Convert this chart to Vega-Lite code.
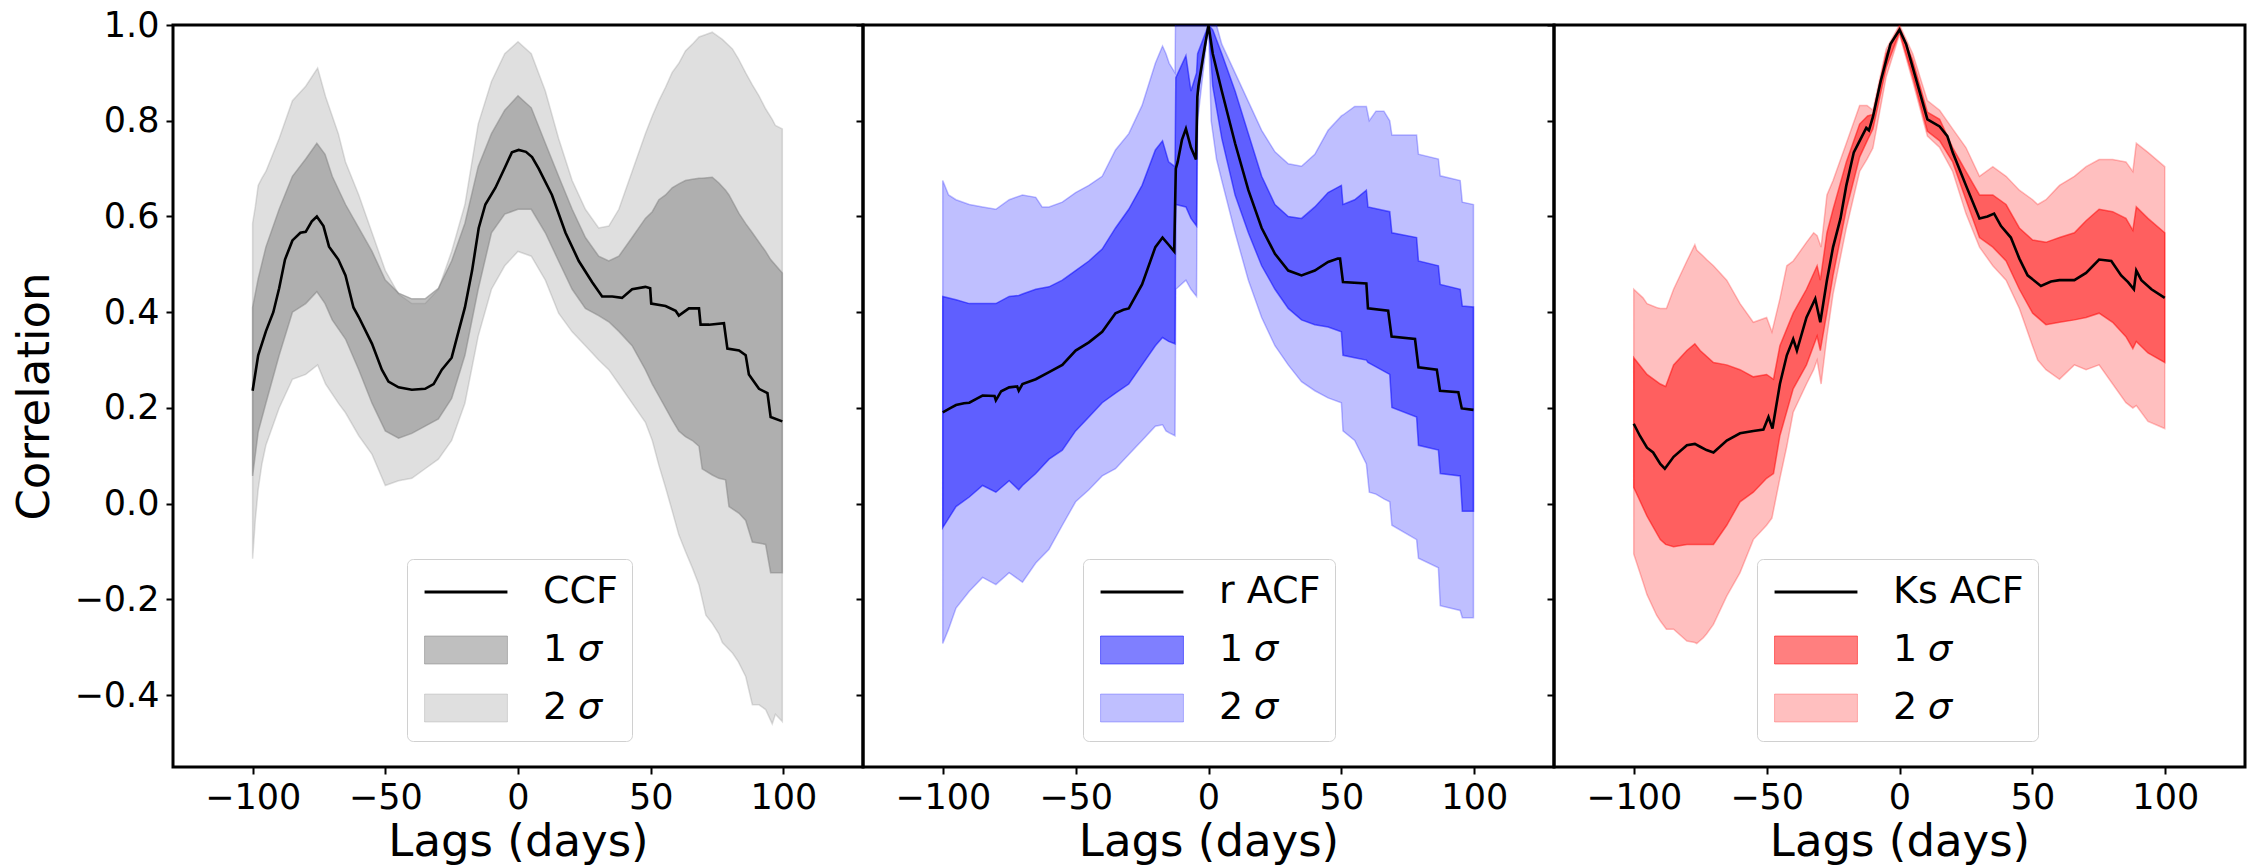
{
  "$schema": "https://vega.github.io/schema/vega-lite/v6.json",
  "background": "white",
  "padding": {"left": 10, "top": 6, "right": 0, "bottom": 0},
  "spacing": 0,
  "bounds": "flush",
  "config": {
    "view": {"stroke": "black", "strokeWidth": 3},
    "font": "DejaVu Sans",
    "axis": {
      "labelFont": "DejaVu Sans", "titleFont": "DejaVu Sans",
      "labelFontSize": 35, "titleFontSize": 45, "titleFontWeight": "normal",
      "labelColor": "black", "titleColor": "black",
      "tickColor": "black", "tickWidth": 2, "tickSize": 7,
      "domain": false, "grid": false, "labelFlush": false, "labelOverlap": false
    },
    "legend": {
      "labelFont": "DejaVu Sans", "labelFontSize": 38, "labelColor": "black",
      "symbolSize": 784, "symbolStrokeWidth": 3, "symbolOffset": 26, "labelOffset": 58,
      "rowPadding": 20, "padding": 14,
      "fillColor": "rgba(255,255,255,0.8)", "strokeColor": "#d0d0d0", "cornerRadius": 6
    }
  },
  "resolve": {"scale": {"color": "independent"}, "legend": {"color": "independent"}},
  "datasets": {
    "p1": [
      {"lag": -100, "s": "2 𝜎", "lo": -0.115, "hi": 0.586},
      {"lag": -99, "s": "2 𝜎", "lo": -0.035, "hi": 0.62},
      {"lag": -97.9, "s": "2 𝜎", "lo": 0.03, "hi": 0.665},
      {"lag": -96.5, "s": "2 𝜎", "lo": 0.083, "hi": 0.68},
      {"lag": -95, "s": "2 𝜎", "lo": 0.122, "hi": 0.694},
      {"lag": -90, "s": "2 𝜎", "lo": 0.2, "hi": 0.763},
      {"lag": -85, "s": "2 𝜎", "lo": 0.26, "hi": 0.842},
      {"lag": -80, "s": "2 𝜎", "lo": 0.27, "hi": 0.872},
      {"lag": -75.5, "s": "2 𝜎", "lo": 0.29, "hi": 0.91},
      {"lag": -72.5, "s": "2 𝜎", "lo": 0.25, "hi": 0.85},
      {"lag": -67.7, "s": "2 𝜎", "lo": 0.21, "hi": 0.773},
      {"lag": -65, "s": "2 𝜎", "lo": 0.19, "hi": 0.714},
      {"lag": -60, "s": "2 𝜎", "lo": 0.142, "hi": 0.645},
      {"lag": -55, "s": "2 𝜎", "lo": 0.103, "hi": 0.566},
      {"lag": -50, "s": "2 𝜎", "lo": 0.038, "hi": 0.487},
      {"lag": -45, "s": "2 𝜎", "lo": 0.048, "hi": 0.438},
      {"lag": -40, "s": "2 𝜎", "lo": 0.053, "hi": 0.418},
      {"lag": -35, "s": "2 𝜎", "lo": 0.073, "hi": 0.418},
      {"lag": -30, "s": "2 𝜎", "lo": 0.093, "hi": 0.448},
      {"lag": -25, "s": "2 𝜎", "lo": 0.132, "hi": 0.527},
      {"lag": -20, "s": "2 𝜎", "lo": 0.21, "hi": 0.625},
      {"lag": -15, "s": "2 𝜎", "lo": 0.35, "hi": 0.793},
      {"lag": -10, "s": "2 𝜎", "lo": 0.448, "hi": 0.882},
      {"lag": -5, "s": "2 𝜎", "lo": 0.497, "hi": 0.94},
      {"lag": 0, "s": "2 𝜎", "lo": 0.527, "hi": 0.965},
      {"lag": 5, "s": "2 𝜎", "lo": 0.517, "hi": 0.94},
      {"lag": 10.3, "s": "2 𝜎", "lo": 0.467, "hi": 0.862},
      {"lag": 15.3, "s": "2 𝜎", "lo": 0.398, "hi": 0.763},
      {"lag": 20.4, "s": "2 𝜎", "lo": 0.359, "hi": 0.675},
      {"lag": 25.4, "s": "2 𝜎", "lo": 0.33, "hi": 0.615},
      {"lag": 30.4, "s": "2 𝜎", "lo": 0.3, "hi": 0.576},
      {"lag": 34.2, "s": "2 𝜎", "lo": 0.28, "hi": 0.58},
      {"lag": 38, "s": "2 𝜎", "lo": 0.25, "hi": 0.615},
      {"lag": 43, "s": "2 𝜎", "lo": 0.21, "hi": 0.694},
      {"lag": 48, "s": "2 𝜎", "lo": 0.17, "hi": 0.773},
      {"lag": 50.6, "s": "2 𝜎", "lo": 0.132, "hi": 0.81},
      {"lag": 53.1, "s": "2 𝜎", "lo": 0.08, "hi": 0.842},
      {"lag": 55.6, "s": "2 𝜎", "lo": 0.034, "hi": 0.87},
      {"lag": 58.1, "s": "2 𝜎", "lo": -0.015, "hi": 0.901},
      {"lag": 60.6, "s": "2 𝜎", "lo": -0.065, "hi": 0.92},
      {"lag": 63.1, "s": "2 𝜎", "lo": -0.1, "hi": 0.946},
      {"lag": 65.7, "s": "2 𝜎", "lo": -0.134, "hi": 0.96},
      {"lag": 68.2, "s": "2 𝜎", "lo": -0.17, "hi": 0.975},
      {"lag": 70.8, "s": "2 𝜎", "lo": -0.233, "hi": 0.98},
      {"lag": 73.2, "s": "2 𝜎", "lo": -0.25, "hi": 0.985},
      {"lag": 75.7, "s": "2 𝜎", "lo": -0.272, "hi": 0.975},
      {"lag": 77, "s": "2 𝜎", "lo": -0.29, "hi": 0.97},
      {"lag": 80.8, "s": "2 𝜎", "lo": -0.312, "hi": 0.95},
      {"lag": 83, "s": "2 𝜎", "lo": -0.33, "hi": 0.93},
      {"lag": 85.8, "s": "2 𝜎", "lo": -0.361, "hi": 0.9},
      {"lag": 88.3, "s": "2 𝜎", "lo": -0.42, "hi": 0.875},
      {"lag": 90.8, "s": "2 𝜎", "lo": -0.42, "hi": 0.852},
      {"lag": 93.3, "s": "2 𝜎", "lo": -0.43, "hi": 0.825},
      {"lag": 95.8, "s": "2 𝜎", "lo": -0.46, "hi": 0.803},
      {"lag": 97, "s": "2 𝜎", "lo": -0.44, "hi": 0.79},
      {"lag": 99.6, "s": "2 𝜎", "lo": -0.455, "hi": 0.783},

      {"lag": -100, "s": "1 𝜎", "lo": 0.058, "hi": 0.41},
      {"lag": -97.9, "s": "1 𝜎", "lo": 0.15, "hi": 0.47},
      {"lag": -95, "s": "1 𝜎", "lo": 0.21, "hi": 0.536},
      {"lag": -90, "s": "1 𝜎", "lo": 0.31, "hi": 0.615},
      {"lag": -85, "s": "1 𝜎", "lo": 0.4, "hi": 0.684},
      {"lag": -80, "s": "1 𝜎", "lo": 0.418, "hi": 0.72},
      {"lag": -75.8, "s": "1 𝜎", "lo": 0.443, "hi": 0.753},
      {"lag": -72.7, "s": "1 𝜎", "lo": 0.418, "hi": 0.73},
      {"lag": -70, "s": "1 𝜎", "lo": 0.384, "hi": 0.684},
      {"lag": -65, "s": "1 𝜎", "lo": 0.344, "hi": 0.625},
      {"lag": -60, "s": "1 𝜎", "lo": 0.28, "hi": 0.576},
      {"lag": -55, "s": "1 𝜎", "lo": 0.21, "hi": 0.527},
      {"lag": -50, "s": "1 𝜎", "lo": 0.152, "hi": 0.467},
      {"lag": -45, "s": "1 𝜎", "lo": 0.137, "hi": 0.44},
      {"lag": -40, "s": "1 𝜎", "lo": 0.147, "hi": 0.428},
      {"lag": -35, "s": "1 𝜎", "lo": 0.162, "hi": 0.428},
      {"lag": -30, "s": "1 𝜎", "lo": 0.177, "hi": 0.45},
      {"lag": -25, "s": "1 𝜎", "lo": 0.22, "hi": 0.507},
      {"lag": -20, "s": "1 𝜎", "lo": 0.31, "hi": 0.586},
      {"lag": -15, "s": "1 𝜎", "lo": 0.448, "hi": 0.704},
      {"lag": -10, "s": "1 𝜎", "lo": 0.566, "hi": 0.773},
      {"lag": -5, "s": "1 𝜎", "lo": 0.605, "hi": 0.822},
      {"lag": 0, "s": "1 𝜎", "lo": 0.615, "hi": 0.852},
      {"lag": 5, "s": "1 𝜎", "lo": 0.615, "hi": 0.827},
      {"lag": 10.3, "s": "1 𝜎", "lo": 0.566, "hi": 0.753},
      {"lag": 15.3, "s": "1 𝜎", "lo": 0.507, "hi": 0.684},
      {"lag": 20.4, "s": "1 𝜎", "lo": 0.448, "hi": 0.615},
      {"lag": 25.4, "s": "1 𝜎", "lo": 0.408, "hi": 0.556},
      {"lag": 30.4, "s": "1 𝜎", "lo": 0.393, "hi": 0.517},
      {"lag": 34.2, "s": "1 𝜎", "lo": 0.38, "hi": 0.507},
      {"lag": 38, "s": "1 𝜎", "lo": 0.36, "hi": 0.517},
      {"lag": 43, "s": "1 𝜎", "lo": 0.33, "hi": 0.556},
      {"lag": 48, "s": "1 𝜎", "lo": 0.28, "hi": 0.596},
      {"lag": 50.6, "s": "1 𝜎", "lo": 0.25, "hi": 0.61},
      {"lag": 53.1, "s": "1 𝜎", "lo": 0.225, "hi": 0.635},
      {"lag": 55.6, "s": "1 𝜎", "lo": 0.2, "hi": 0.645},
      {"lag": 58.1, "s": "1 𝜎", "lo": 0.175, "hi": 0.66},
      {"lag": 60.6, "s": "1 𝜎", "lo": 0.152, "hi": 0.668},
      {"lag": 63.1, "s": "1 𝜎", "lo": 0.14, "hi": 0.675},
      {"lag": 65.7, "s": "1 𝜎", "lo": 0.132, "hi": 0.678},
      {"lag": 68.2, "s": "1 𝜎", "lo": 0.12, "hi": 0.68},
      {"lag": 69.4, "s": "1 𝜎", "lo": 0.073, "hi": 0.68},
      {"lag": 73.2, "s": "1 𝜎", "lo": 0.06, "hi": 0.682},
      {"lag": 75.7, "s": "1 𝜎", "lo": 0.053, "hi": 0.67},
      {"lag": 78.2, "s": "1 𝜎", "lo": 0.05, "hi": 0.655},
      {"lag": 79.5, "s": "1 𝜎", "lo": -0.006, "hi": 0.645},
      {"lag": 83.3, "s": "1 𝜎", "lo": -0.02, "hi": 0.606},
      {"lag": 85.8, "s": "1 𝜎", "lo": -0.035, "hi": 0.585},
      {"lag": 88.3, "s": "1 𝜎", "lo": -0.08, "hi": 0.566},
      {"lag": 93.3, "s": "1 𝜎", "lo": -0.085, "hi": 0.527},
      {"lag": 95.2, "s": "1 𝜎", "lo": -0.144, "hi": 0.51},
      {"lag": 99.6, "s": "1 𝜎", "lo": -0.144, "hi": 0.482},

      {"lag": -100, "s": "CCF", "v": 0.236}, {"lag": -97.9, "s": "CCF", "v": 0.31},
      {"lag": -95, "s": "CCF", "v": 0.36}, {"lag": -92.2, "s": "CCF", "v": 0.4},
      {"lag": -90, "s": "CCF", "v": 0.45}, {"lag": -87.8, "s": "CCF", "v": 0.51},
      {"lag": -85, "s": "CCF", "v": 0.55}, {"lag": -82, "s": "CCF", "v": 0.566},
      {"lag": -80, "s": "CCF", "v": 0.568}, {"lag": -77.7, "s": "CCF", "v": 0.59},
      {"lag": -75.8, "s": "CCF", "v": 0.6}, {"lag": -73.3, "s": "CCF", "v": 0.58},
      {"lag": -71.2, "s": "CCF", "v": 0.537}, {"lag": -67.7, "s": "CCF", "v": 0.51},
      {"lag": -65, "s": "CCF", "v": 0.477}, {"lag": -62, "s": "CCF", "v": 0.41},
      {"lag": -60, "s": "CCF", "v": 0.39}, {"lag": -55, "s": "CCF", "v": 0.334},
      {"lag": -51.3, "s": "CCF", "v": 0.28}, {"lag": -48.8, "s": "CCF", "v": 0.255},
      {"lag": -45, "s": "CCF", "v": 0.243}, {"lag": -40, "s": "CCF", "v": 0.238},
      {"lag": -35, "s": "CCF", "v": 0.24}, {"lag": -31.8, "s": "CCF", "v": 0.25},
      {"lag": -28.7, "s": "CCF", "v": 0.28}, {"lag": -25, "s": "CCF", "v": 0.305},
      {"lag": -22.4, "s": "CCF", "v": 0.36}, {"lag": -20, "s": "CCF", "v": 0.41},
      {"lag": -17.3, "s": "CCF", "v": 0.487}, {"lag": -14.8, "s": "CCF", "v": 0.576},
      {"lag": -12.3, "s": "CCF", "v": 0.625}, {"lag": -8.5, "s": "CCF", "v": 0.66},
      {"lag": -4.8, "s": "CCF", "v": 0.704}, {"lag": -2.3, "s": "CCF", "v": 0.734},
      {"lag": 0.25, "s": "CCF", "v": 0.739}, {"lag": 3, "s": "CCF", "v": 0.735},
      {"lag": 5.3, "s": "CCF", "v": 0.724}, {"lag": 7.8, "s": "CCF", "v": 0.7},
      {"lag": 12.8, "s": "CCF", "v": 0.645}, {"lag": 17.9, "s": "CCF", "v": 0.566},
      {"lag": 22.9, "s": "CCF", "v": 0.507}, {"lag": 27.9, "s": "CCF", "v": 0.463},
      {"lag": 31.7, "s": "CCF", "v": 0.433}, {"lag": 35.5, "s": "CCF", "v": 0.433},
      {"lag": 39.2, "s": "CCF", "v": 0.43}, {"lag": 43, "s": "CCF", "v": 0.448},
      {"lag": 48, "s": "CCF", "v": 0.453}, {"lag": 49.8, "s": "CCF", "v": 0.45},
      {"lag": 50.2, "s": "CCF", "v": 0.418}, {"lag": 55.6, "s": "CCF", "v": 0.413},
      {"lag": 59.4, "s": "CCF", "v": 0.403}, {"lag": 60.6, "s": "CCF", "v": 0.393},
      {"lag": 64.4, "s": "CCF", "v": 0.408}, {"lag": 68.2, "s": "CCF", "v": 0.408},
      {"lag": 68.8, "s": "CCF", "v": 0.374}, {"lag": 72, "s": "CCF", "v": 0.374},
      {"lag": 77.6, "s": "CCF", "v": 0.377}, {"lag": 78.9, "s": "CCF", "v": 0.324},
      {"lag": 83.3, "s": "CCF", "v": 0.32}, {"lag": 85.8, "s": "CCF", "v": 0.31},
      {"lag": 87, "s": "CCF", "v": 0.27}, {"lag": 90.8, "s": "CCF", "v": 0.24},
      {"lag": 94, "s": "CCF", "v": 0.231}, {"lag": 95.2, "s": "CCF", "v": 0.181},
      {"lag": 99.6, "s": "CCF", "v": 0.172}
    ],
    "p2": [
      {"lag": -100, "s": "2 𝜎", "lo": -0.292, "hi": 0.675},
      {"lag": -97.8, "s": "2 𝜎", "lo": -0.262, "hi": 0.645},
      {"lag": -95, "s": "2 𝜎", "lo": -0.218, "hi": 0.635},
      {"lag": -90, "s": "2 𝜎", "lo": -0.183, "hi": 0.625},
      {"lag": -85, "s": "2 𝜎", "lo": -0.154, "hi": 0.62},
      {"lag": -80, "s": "2 𝜎", "lo": -0.169, "hi": 0.615},
      {"lag": -75, "s": "2 𝜎", "lo": -0.144, "hi": 0.635},
      {"lag": -70, "s": "2 𝜎", "lo": -0.164, "hi": 0.645},
      {"lag": -65, "s": "2 𝜎", "lo": -0.124, "hi": 0.64},
      {"lag": -62.6, "s": "2 𝜎", "lo": -0.11, "hi": 0.62},
      {"lag": -60, "s": "2 𝜎", "lo": -0.095, "hi": 0.62},
      {"lag": -55, "s": "2 𝜎", "lo": -0.045, "hi": 0.63},
      {"lag": -50, "s": "2 𝜎", "lo": 0.004, "hi": 0.65},
      {"lag": -45, "s": "2 𝜎", "lo": 0.029, "hi": 0.665},
      {"lag": -40, "s": "2 𝜎", "lo": 0.058, "hi": 0.684},
      {"lag": -35, "s": "2 𝜎", "lo": 0.073, "hi": 0.739},
      {"lag": -30, "s": "2 𝜎", "lo": 0.103, "hi": 0.773},
      {"lag": -25, "s": "2 𝜎", "lo": 0.132, "hi": 0.832},
      {"lag": -20, "s": "2 𝜎", "lo": 0.162, "hi": 0.92},
      {"lag": -17.3, "s": "2 𝜎", "lo": 0.165, "hi": 0.956},
      {"lag": -16, "s": "2 𝜎", "lo": 0.152, "hi": 0.94},
      {"lag": -14.8, "s": "2 𝜎", "lo": 0.148, "hi": 0.92},
      {"lag": -12.6, "s": "2 𝜎", "lo": 0.142, "hi": 0.9},
      {"lag": -12.3, "s": "2 𝜎", "lo": 0.448, "hi": 1.08},
      {"lag": -8.5, "s": "2 𝜎", "lo": 0.467, "hi": 1.08},
      {"lag": -6.6, "s": "2 𝜎", "lo": 0.448, "hi": 1.08},
      {"lag": -4.5, "s": "2 𝜎", "lo": 0.433, "hi": 1.08},
      {"lag": -4.1, "s": "2 𝜎", "lo": 0.8, "hi": 1.08},
      {"lag": 0, "s": "2 𝜎", "lo": 1.0, "hi": 1.08},
      {"lag": 1, "s": "2 𝜎", "lo": 0.8, "hi": 1.06},
      {"lag": 3, "s": "2 𝜎", "lo": 0.72, "hi": 1.0},
      {"lag": 5, "s": "2 𝜎", "lo": 0.675, "hi": 0.96},
      {"lag": 10, "s": "2 𝜎", "lo": 0.566, "hi": 0.9},
      {"lag": 15, "s": "2 𝜎", "lo": 0.467, "hi": 0.84},
      {"lag": 20, "s": "2 𝜎", "lo": 0.389, "hi": 0.78},
      {"lag": 25, "s": "2 𝜎", "lo": 0.33, "hi": 0.735},
      {"lag": 30, "s": "2 𝜎", "lo": 0.29, "hi": 0.71},
      {"lag": 35, "s": "2 𝜎", "lo": 0.255, "hi": 0.705},
      {"lag": 40, "s": "2 𝜎", "lo": 0.236, "hi": 0.73},
      {"lag": 45, "s": "2 𝜎", "lo": 0.221, "hi": 0.78},
      {"lag": 50, "s": "2 𝜎", "lo": 0.211, "hi": 0.81},
      {"lag": 50.6, "s": "2 𝜎", "lo": 0.152, "hi": 0.812},
      {"lag": 55, "s": "2 𝜎", "lo": 0.132, "hi": 0.83},
      {"lag": 59.4, "s": "2 𝜎", "lo": 0.083, "hi": 0.83},
      {"lag": 60.5, "s": "2 𝜎", "lo": 0.024, "hi": 0.8},
      {"lag": 63, "s": "2 𝜎", "lo": 0.02, "hi": 0.82},
      {"lag": 66, "s": "2 𝜎", "lo": 0.01, "hi": 0.82},
      {"lag": 68.2, "s": "2 𝜎", "lo": 0.004, "hi": 0.8},
      {"lag": 69, "s": "2 𝜎", "lo": -0.045, "hi": 0.77},
      {"lag": 78.3, "s": "2 𝜎", "lo": -0.075, "hi": 0.77},
      {"lag": 79, "s": "2 𝜎", "lo": -0.114, "hi": 0.73},
      {"lag": 86.5, "s": "2 𝜎", "lo": -0.134, "hi": 0.72},
      {"lag": 87.2, "s": "2 𝜎", "lo": -0.213, "hi": 0.685},
      {"lag": 94.7, "s": "2 𝜎", "lo": -0.223, "hi": 0.675},
      {"lag": 95.5, "s": "2 𝜎", "lo": -0.238, "hi": 0.63},
      {"lag": 99.7, "s": "2 𝜎", "lo": -0.238, "hi": 0.625},

      {"lag": -100, "s": "1 𝜎", "lo": -0.05, "hi": 0.433},
      {"lag": -95, "s": "1 𝜎", "lo": -0.006, "hi": 0.426},
      {"lag": -90, "s": "1 𝜎", "lo": 0.014, "hi": 0.418},
      {"lag": -85, "s": "1 𝜎", "lo": 0.038, "hi": 0.418},
      {"lag": -80, "s": "1 𝜎", "lo": 0.024, "hi": 0.418},
      {"lag": -75, "s": "1 𝜎", "lo": 0.048, "hi": 0.433},
      {"lag": -71.4, "s": "1 𝜎", "lo": 0.029, "hi": 0.435},
      {"lag": -70, "s": "1 𝜎", "lo": 0.038, "hi": 0.438},
      {"lag": -65, "s": "1 𝜎", "lo": 0.063, "hi": 0.448},
      {"lag": -60, "s": "1 𝜎", "lo": 0.093, "hi": 0.453},
      {"lag": -55, "s": "1 𝜎", "lo": 0.112, "hi": 0.467},
      {"lag": -50, "s": "1 𝜎", "lo": 0.152, "hi": 0.487},
      {"lag": -45, "s": "1 𝜎", "lo": 0.181, "hi": 0.507},
      {"lag": -40, "s": "1 𝜎", "lo": 0.211, "hi": 0.532},
      {"lag": -35, "s": "1 𝜎", "lo": 0.231, "hi": 0.576},
      {"lag": -30, "s": "1 𝜎", "lo": 0.25, "hi": 0.615},
      {"lag": -25, "s": "1 𝜎", "lo": 0.29, "hi": 0.665},
      {"lag": -20, "s": "1 𝜎", "lo": 0.33, "hi": 0.739},
      {"lag": -17.3, "s": "1 𝜎", "lo": 0.347, "hi": 0.758},
      {"lag": -15, "s": "1 𝜎", "lo": 0.339, "hi": 0.714},
      {"lag": -12.6, "s": "1 𝜎", "lo": 0.334, "hi": 0.704},
      {"lag": -12.3, "s": "1 𝜎", "lo": 0.625, "hi": 0.89},
      {"lag": -8.5, "s": "1 𝜎", "lo": 0.62, "hi": 0.936},
      {"lag": -6.6, "s": "1 𝜎", "lo": 0.596, "hi": 0.862},
      {"lag": -4.5, "s": "1 𝜎", "lo": 0.58, "hi": 0.9},
      {"lag": -4.1, "s": "1 𝜎", "lo": 0.85, "hi": 0.94},
      {"lag": 0, "s": "1 𝜎", "lo": 1.0, "hi": 1.0},
      {"lag": 1.6, "s": "1 𝜎", "lo": 0.872, "hi": 0.99},
      {"lag": 5, "s": "1 𝜎", "lo": 0.763, "hi": 0.94},
      {"lag": 10, "s": "1 𝜎", "lo": 0.645, "hi": 0.862},
      {"lag": 15, "s": "1 𝜎", "lo": 0.566, "hi": 0.773},
      {"lag": 20, "s": "1 𝜎", "lo": 0.497, "hi": 0.684},
      {"lag": 25, "s": "1 𝜎", "lo": 0.448, "hi": 0.625},
      {"lag": 30, "s": "1 𝜎", "lo": 0.408, "hi": 0.6},
      {"lag": 35, "s": "1 𝜎", "lo": 0.384, "hi": 0.596},
      {"lag": 40, "s": "1 𝜎", "lo": 0.374, "hi": 0.62},
      {"lag": 45, "s": "1 𝜎", "lo": 0.369, "hi": 0.65},
      {"lag": 50, "s": "1 𝜎", "lo": 0.359, "hi": 0.665},
      {"lag": 50.6, "s": "1 𝜎", "lo": 0.31, "hi": 0.625},
      {"lag": 55, "s": "1 𝜎", "lo": 0.305, "hi": 0.635},
      {"lag": 59.4, "s": "1 𝜎", "lo": 0.3, "hi": 0.655},
      {"lag": 60, "s": "1 𝜎", "lo": 0.295, "hi": 0.62},
      {"lag": 68.2, "s": "1 𝜎", "lo": 0.27, "hi": 0.61},
      {"lag": 69, "s": "1 𝜎", "lo": 0.201, "hi": 0.566},
      {"lag": 78.3, "s": "1 𝜎", "lo": 0.181, "hi": 0.556},
      {"lag": 79, "s": "1 𝜎", "lo": 0.122, "hi": 0.507},
      {"lag": 86.5, "s": "1 𝜎", "lo": 0.112, "hi": 0.497},
      {"lag": 87.2, "s": "1 𝜎", "lo": 0.063, "hi": 0.458},
      {"lag": 94.7, "s": "1 𝜎", "lo": 0.058, "hi": 0.448},
      {"lag": 95.5, "s": "1 𝜎", "lo": -0.016, "hi": 0.413},
      {"lag": 99.7, "s": "1 𝜎", "lo": -0.016, "hi": 0.411},

      {"lag": -100, "s": "r ACF", "v": 0.191}, {"lag": -97, "s": "r ACF", "v": 0.2},
      {"lag": -95, "s": "r ACF", "v": 0.206}, {"lag": -92, "s": "r ACF", "v": 0.21},
      {"lag": -90, "s": "r ACF", "v": 0.211}, {"lag": -87, "s": "r ACF", "v": 0.22},
      {"lag": -85, "s": "r ACF", "v": 0.226}, {"lag": -80.5, "s": "r ACF", "v": 0.225},
      {"lag": -80, "s": "r ACF", "v": 0.216}, {"lag": -78, "s": "r ACF", "v": 0.235},
      {"lag": -75, "s": "r ACF", "v": 0.243}, {"lag": -72, "s": "r ACF", "v": 0.245},
      {"lag": -71.4, "s": "r ACF", "v": 0.236}, {"lag": -70, "s": "r ACF", "v": 0.25},
      {"lag": -65, "s": "r ACF", "v": 0.26}, {"lag": -60, "s": "r ACF", "v": 0.275},
      {"lag": -55, "s": "r ACF", "v": 0.29}, {"lag": -50, "s": "r ACF", "v": 0.32},
      {"lag": -45, "s": "r ACF", "v": 0.337}, {"lag": -40, "s": "r ACF", "v": 0.359},
      {"lag": -36, "s": "r ACF", "v": 0.39}, {"lag": -35, "s": "r ACF", "v": 0.398},
      {"lag": -32, "s": "r ACF", "v": 0.405}, {"lag": -30, "s": "r ACF", "v": 0.408},
      {"lag": -25, "s": "r ACF", "v": 0.458}, {"lag": -20, "s": "r ACF", "v": 0.536},
      {"lag": -17.3, "s": "r ACF", "v": 0.556}, {"lag": -15, "s": "r ACF", "v": 0.541},
      {"lag": -12.9, "s": "r ACF", "v": 0.527}, {"lag": -12.3, "s": "r ACF", "v": 0.7},
      {"lag": -11.6, "s": "r ACF", "v": 0.714}, {"lag": -10, "s": "r ACF", "v": 0.76},
      {"lag": -8.5, "s": "r ACF", "v": 0.783}, {"lag": -6.6, "s": "r ACF", "v": 0.744},
      {"lag": -4.7, "s": "r ACF", "v": 0.719}, {"lag": -4.2, "s": "r ACF", "v": 0.85},
      {"lag": -3.8, "s": "r ACF", "v": 0.872}, {"lag": -2, "s": "r ACF", "v": 0.935},
      {"lag": 0, "s": "r ACF", "v": 1.0}, {"lag": 1.6, "s": "r ACF", "v": 0.94},
      {"lag": 5, "s": "r ACF", "v": 0.862}, {"lag": 10, "s": "r ACF", "v": 0.753},
      {"lag": 15, "s": "r ACF", "v": 0.655}, {"lag": 20, "s": "r ACF", "v": 0.576},
      {"lag": 25, "s": "r ACF", "v": 0.522}, {"lag": 30, "s": "r ACF", "v": 0.487},
      {"lag": 35, "s": "r ACF", "v": 0.477}, {"lag": 40, "s": "r ACF", "v": 0.487},
      {"lag": 45, "s": "r ACF", "v": 0.505}, {"lag": 48.7, "s": "r ACF", "v": 0.512},
      {"lag": 49.5, "s": "r ACF", "v": 0.512}, {"lag": 50.6, "s": "r ACF", "v": 0.463},
      {"lag": 59.4, "s": "r ACF", "v": 0.46}, {"lag": 60, "s": "r ACF", "v": 0.408},
      {"lag": 67.6, "s": "r ACF", "v": 0.403}, {"lag": 68.9, "s": "r ACF", "v": 0.349},
      {"lag": 77.7, "s": "r ACF", "v": 0.344}, {"lag": 79, "s": "r ACF", "v": 0.285},
      {"lag": 85.9, "s": "r ACF", "v": 0.28}, {"lag": 87.1, "s": "r ACF", "v": 0.236},
      {"lag": 94, "s": "r ACF", "v": 0.233}, {"lag": 95.3, "s": "r ACF", "v": 0.199},
      {"lag": 99.7, "s": "r ACF", "v": 0.196}
    ],
    "p3": [
      {"lag": -100, "s": "2 𝜎", "lo": -0.105, "hi": 0.448},
      {"lag": -96.5, "s": "2 𝜎", "lo": -0.164, "hi": 0.43},
      {"lag": -95, "s": "2 𝜎", "lo": -0.19, "hi": 0.418},
      {"lag": -91.4, "s": "2 𝜎", "lo": -0.233, "hi": 0.41},
      {"lag": -90, "s": "2 𝜎", "lo": -0.245, "hi": 0.408},
      {"lag": -87.7, "s": "2 𝜎", "lo": -0.262, "hi": 0.408},
      {"lag": -85, "s": "2 𝜎", "lo": -0.262, "hi": 0.448},
      {"lag": -80, "s": "2 𝜎", "lo": -0.287, "hi": 0.507},
      {"lag": -77, "s": "2 𝜎", "lo": -0.29, "hi": 0.541},
      {"lag": -76.3, "s": "2 𝜎", "lo": -0.292, "hi": 0.53},
      {"lag": -73.8, "s": "2 𝜎", "lo": -0.28, "hi": 0.517},
      {"lag": -72.6, "s": "2 𝜎", "lo": -0.272, "hi": 0.51},
      {"lag": -70, "s": "2 𝜎", "lo": -0.252, "hi": 0.497},
      {"lag": -65, "s": "2 𝜎", "lo": -0.193, "hi": 0.467},
      {"lag": -60, "s": "2 𝜎", "lo": -0.144, "hi": 0.418},
      {"lag": -55, "s": "2 𝜎", "lo": -0.075, "hi": 0.379},
      {"lag": -50, "s": "2 𝜎", "lo": -0.045, "hi": 0.389},
      {"lag": -48, "s": "2 𝜎", "lo": -0.03, "hi": 0.359},
      {"lag": -45, "s": "2 𝜎", "lo": 0.053, "hi": 0.428},
      {"lag": -42.4, "s": "2 𝜎", "lo": 0.12, "hi": 0.497},
      {"lag": -40, "s": "2 𝜎", "lo": 0.191, "hi": 0.507},
      {"lag": -35, "s": "2 𝜎", "lo": 0.25, "hi": 0.546},
      {"lag": -32.3, "s": "2 𝜎", "lo": 0.28, "hi": 0.566},
      {"lag": -31, "s": "2 𝜎", "lo": 0.3, "hi": 0.56},
      {"lag": -29.5, "s": "2 𝜎", "lo": 0.25, "hi": 0.536},
      {"lag": -27.3, "s": "2 𝜎", "lo": 0.35, "hi": 0.645},
      {"lag": -25, "s": "2 𝜎", "lo": 0.438, "hi": 0.675},
      {"lag": -20, "s": "2 𝜎", "lo": 0.576, "hi": 0.753},
      {"lag": -15, "s": "2 𝜎", "lo": 0.694, "hi": 0.832},
      {"lag": -12.2, "s": "2 𝜎", "lo": 0.72, "hi": 0.832},
      {"lag": -10, "s": "2 𝜎", "lo": 0.743, "hi": 0.822},
      {"lag": -5, "s": "2 𝜎", "lo": 0.892, "hi": 0.95},
      {"lag": 0, "s": "2 𝜎", "lo": 0.98, "hi": 1.0},
      {"lag": 5, "s": "2 𝜎", "lo": 0.882, "hi": 0.94},
      {"lag": 10.5, "s": "2 𝜎", "lo": 0.768, "hi": 0.842},
      {"lag": 15.1, "s": "2 𝜎", "lo": 0.744, "hi": 0.822},
      {"lag": 20, "s": "2 𝜎", "lo": 0.694, "hi": 0.783},
      {"lag": 25, "s": "2 𝜎", "lo": 0.606, "hi": 0.744},
      {"lag": 30.1, "s": "2 𝜎", "lo": 0.536, "hi": 0.684},
      {"lag": 35.1, "s": "2 𝜎", "lo": 0.497, "hi": 0.704},
      {"lag": 40.1, "s": "2 𝜎", "lo": 0.467, "hi": 0.684},
      {"lag": 45.1, "s": "2 𝜎", "lo": 0.408, "hi": 0.655},
      {"lag": 50.1, "s": "2 𝜎", "lo": 0.329, "hi": 0.635},
      {"lag": 52, "s": "2 𝜎", "lo": 0.3, "hi": 0.625},
      {"lag": 55.1, "s": "2 𝜎", "lo": 0.28, "hi": 0.635},
      {"lag": 60.2, "s": "2 𝜎", "lo": 0.26, "hi": 0.665},
      {"lag": 65.8, "s": "2 𝜎", "lo": 0.29, "hi": 0.684},
      {"lag": 70.2, "s": "2 𝜎", "lo": 0.28, "hi": 0.704},
      {"lag": 75.1, "s": "2 𝜎", "lo": 0.29, "hi": 0.719},
      {"lag": 80.2, "s": "2 𝜎", "lo": 0.25, "hi": 0.719},
      {"lag": 85.2, "s": "2 𝜎", "lo": 0.211, "hi": 0.714},
      {"lag": 87.8, "s": "2 𝜎", "lo": 0.2, "hi": 0.694},
      {"lag": 89.1, "s": "2 𝜎", "lo": 0.205, "hi": 0.753},
      {"lag": 93.5, "s": "2 𝜎", "lo": 0.172, "hi": 0.734},
      {"lag": 99.8, "s": "2 𝜎", "lo": 0.157, "hi": 0.704},

      {"lag": -100, "s": "1 𝜎", "lo": 0.034, "hi": 0.305},
      {"lag": -95, "s": "1 𝜎", "lo": -0.026, "hi": 0.27},
      {"lag": -90, "s": "1 𝜎", "lo": -0.075, "hi": 0.25},
      {"lag": -88, "s": "1 𝜎", "lo": -0.085, "hi": 0.245},
      {"lag": -85, "s": "1 𝜎", "lo": -0.09, "hi": 0.29},
      {"lag": -80, "s": "1 𝜎", "lo": -0.085, "hi": 0.32},
      {"lag": -77, "s": "1 𝜎", "lo": -0.085, "hi": 0.334},
      {"lag": -75, "s": "1 𝜎", "lo": -0.085, "hi": 0.32},
      {"lag": -70, "s": "1 𝜎", "lo": -0.085, "hi": 0.295},
      {"lag": -65, "s": "1 𝜎", "lo": -0.045, "hi": 0.29},
      {"lag": -60, "s": "1 𝜎", "lo": 0.004, "hi": 0.28},
      {"lag": -55, "s": "1 𝜎", "lo": 0.024, "hi": 0.265},
      {"lag": -50, "s": "1 𝜎", "lo": 0.053, "hi": 0.27},
      {"lag": -47.4, "s": "1 𝜎", "lo": 0.063, "hi": 0.26},
      {"lag": -45, "s": "1 𝜎", "lo": 0.142, "hi": 0.33},
      {"lag": -40, "s": "1 𝜎", "lo": 0.24, "hi": 0.398},
      {"lag": -35, "s": "1 𝜎", "lo": 0.29, "hi": 0.448},
      {"lag": -31, "s": "1 𝜎", "lo": 0.35, "hi": 0.497},
      {"lag": -29.8, "s": "1 𝜎", "lo": 0.32, "hi": 0.467},
      {"lag": -27.3, "s": "1 𝜎", "lo": 0.4, "hi": 0.566},
      {"lag": -25, "s": "1 𝜎", "lo": 0.477, "hi": 0.615},
      {"lag": -20, "s": "1 𝜎", "lo": 0.615, "hi": 0.714},
      {"lag": -15, "s": "1 𝜎", "lo": 0.724, "hi": 0.793},
      {"lag": -12, "s": "1 𝜎", "lo": 0.76, "hi": 0.81},
      {"lag": -10, "s": "1 𝜎", "lo": 0.783, "hi": 0.813},
      {"lag": -5, "s": "1 𝜎", "lo": 0.911, "hi": 0.94},
      {"lag": 0, "s": "1 𝜎", "lo": 0.985, "hi": 0.995},
      {"lag": 5, "s": "1 𝜎", "lo": 0.892, "hi": 0.926},
      {"lag": 10.5, "s": "1 𝜎", "lo": 0.778, "hi": 0.818},
      {"lag": 15.1, "s": "1 𝜎", "lo": 0.758, "hi": 0.803},
      {"lag": 20, "s": "1 𝜎", "lo": 0.714, "hi": 0.744},
      {"lag": 25, "s": "1 𝜎", "lo": 0.635, "hi": 0.694},
      {"lag": 30.1, "s": "1 𝜎", "lo": 0.556, "hi": 0.645},
      {"lag": 35.1, "s": "1 𝜎", "lo": 0.536, "hi": 0.645},
      {"lag": 40.1, "s": "1 𝜎", "lo": 0.507, "hi": 0.625},
      {"lag": 45.1, "s": "1 𝜎", "lo": 0.448, "hi": 0.576},
      {"lag": 50.1, "s": "1 𝜎", "lo": 0.398, "hi": 0.551},
      {"lag": 55.1, "s": "1 𝜎", "lo": 0.374, "hi": 0.546},
      {"lag": 60.2, "s": "1 𝜎", "lo": 0.379, "hi": 0.556},
      {"lag": 65.8, "s": "1 𝜎", "lo": 0.384, "hi": 0.566},
      {"lag": 70.2, "s": "1 𝜎", "lo": 0.389, "hi": 0.591},
      {"lag": 75.1, "s": "1 𝜎", "lo": 0.398, "hi": 0.615},
      {"lag": 80.2, "s": "1 𝜎", "lo": 0.379, "hi": 0.61},
      {"lag": 85.2, "s": "1 𝜎", "lo": 0.349, "hi": 0.596},
      {"lag": 87.8, "s": "1 𝜎", "lo": 0.324, "hi": 0.571},
      {"lag": 89.1, "s": "1 𝜎", "lo": 0.339, "hi": 0.62},
      {"lag": 93.5, "s": "1 𝜎", "lo": 0.315, "hi": 0.596},
      {"lag": 99.8, "s": "1 𝜎", "lo": 0.295, "hi": 0.566},

      {"lag": -100, "s": "Ks ACF", "v": 0.167}, {"lag": -97.7, "s": "Ks ACF", "v": 0.142},
      {"lag": -95, "s": "Ks ACF", "v": 0.117}, {"lag": -92.7, "s": "Ks ACF", "v": 0.107},
      {"lag": -90, "s": "Ks ACF", "v": 0.083}, {"lag": -88.3, "s": "Ks ACF", "v": 0.073},
      {"lag": -85, "s": "Ks ACF", "v": 0.098}, {"lag": -80, "s": "Ks ACF", "v": 0.122},
      {"lag": -77, "s": "Ks ACF", "v": 0.125}, {"lag": -75, "s": "Ks ACF", "v": 0.119},
      {"lag": -72.6, "s": "Ks ACF", "v": 0.112}, {"lag": -70, "s": "Ks ACF", "v": 0.107},
      {"lag": -65, "s": "Ks ACF", "v": 0.132}, {"lag": -60, "s": "Ks ACF", "v": 0.147},
      {"lag": -55, "s": "Ks ACF", "v": 0.152}, {"lag": -51.2, "s": "Ks ACF", "v": 0.155},
      {"lag": -49.3, "s": "Ks ACF", "v": 0.181}, {"lag": -47.8, "s": "Ks ACF", "v": 0.157},
      {"lag": -45, "s": "Ks ACF", "v": 0.25}, {"lag": -42.4, "s": "Ks ACF", "v": 0.31},
      {"lag": -40, "s": "Ks ACF", "v": 0.344}, {"lag": -38.6, "s": "Ks ACF", "v": 0.32},
      {"lag": -35, "s": "Ks ACF", "v": 0.389}, {"lag": -31.7, "s": "Ks ACF", "v": 0.428},
      {"lag": -29.8, "s": "Ks ACF", "v": 0.379}, {"lag": -27.3, "s": "Ks ACF", "v": 0.467},
      {"lag": -25, "s": "Ks ACF", "v": 0.536}, {"lag": -22.2, "s": "Ks ACF", "v": 0.596},
      {"lag": -20, "s": "Ks ACF", "v": 0.665}, {"lag": -17.2, "s": "Ks ACF", "v": 0.734},
      {"lag": -15, "s": "Ks ACF", "v": 0.758}, {"lag": -12.5, "s": "Ks ACF", "v": 0.785},
      {"lag": -11.5, "s": "Ks ACF", "v": 0.78}, {"lag": -10, "s": "Ks ACF", "v": 0.808},
      {"lag": -7.1, "s": "Ks ACF", "v": 0.882}, {"lag": -3.4, "s": "Ks ACF", "v": 0.96},
      {"lag": 0, "s": "Ks ACF", "v": 0.99}, {"lag": 2.5, "s": "Ks ACF", "v": 0.96},
      {"lag": 5, "s": "Ks ACF", "v": 0.911}, {"lag": 8, "s": "Ks ACF", "v": 0.852},
      {"lag": 10.5, "s": "Ks ACF", "v": 0.803}, {"lag": 15.1, "s": "Ks ACF", "v": 0.788},
      {"lag": 18, "s": "Ks ACF", "v": 0.768}, {"lag": 20, "s": "Ks ACF", "v": 0.734},
      {"lag": 25, "s": "Ks ACF", "v": 0.665}, {"lag": 30.1, "s": "Ks ACF", "v": 0.596},
      {"lag": 33.1, "s": "Ks ACF", "v": 0.6}, {"lag": 35.6, "s": "Ks ACF", "v": 0.606},
      {"lag": 38.2, "s": "Ks ACF", "v": 0.58}, {"lag": 41.9, "s": "Ks ACF", "v": 0.556},
      {"lag": 45.1, "s": "Ks ACF", "v": 0.512}, {"lag": 48.2, "s": "Ks ACF", "v": 0.477},
      {"lag": 53.2, "s": "Ks ACF", "v": 0.455}, {"lag": 57, "s": "Ks ACF", "v": 0.464},
      {"lag": 60.2, "s": "Ks ACF", "v": 0.467}, {"lag": 65.8, "s": "Ks ACF", "v": 0.467},
      {"lag": 70.2, "s": "Ks ACF", "v": 0.482}, {"lag": 75.1, "s": "Ks ACF", "v": 0.51},
      {"lag": 79.7, "s": "Ks ACF", "v": 0.507}, {"lag": 83.4, "s": "Ks ACF", "v": 0.477},
      {"lag": 86, "s": "Ks ACF", "v": 0.463}, {"lag": 88.2, "s": "Ks ACF", "v": 0.448},
      {"lag": 89.1, "s": "Ks ACF", "v": 0.487}, {"lag": 91, "s": "Ks ACF", "v": 0.467},
      {"lag": 94.8, "s": "Ks ACF", "v": 0.448}, {"lag": 99.8, "s": "Ks ACF", "v": 0.43}
    ]
  },
  "hconcat": [
    {
      "width": 690, "height": 742,
      "data": {"name": "p1"},
      "encoding": {
        "x": {"field": "lag", "type": "quantitative", "scale": {"domain": [-130, 130], "nice": false},
              "axis": {"title": "Lags (days)", "values": [-100, -50, 0, 50, 100], "labelPadding": 6, "titlePadding": 4}},
        "color": {"field": "s", "type": "nominal",
          "scale": {"domain": ["CCF", "1 𝜎", "2 𝜎"], "range": ["black", "rgba(128,128,128,0.5)", "rgba(128,128,128,0.25)"]},
          "legend": {"title": null, "orient": "none", "legendX": 234, "legendY": 534,
            "encode": {"symbols": {"update": {
              "shape": {"signal": "datum.value === 'CCF' ? 'M-2.96,0L2.96,0' : 'M-2.96,-1L2.96,-1L2.96,1L-2.96,1Z'"},
              "fill": {"signal": "datum.value === 'CCF' ? 'transparent' : datum.value === '1 𝜎' ? 'rgba(128,128,128,0.5)' : 'rgba(128,128,128,0.25)'"},
              "stroke": {"signal": "datum.value === 'CCF' ? 'black' : datum.value === '1 𝜎' ? 'rgba(128,128,128,0.5)' : 'rgba(128,128,128,0.25)'"},
              "strokeWidth": {"signal": "datum.value === 'CCF' ? 3 : 1"}, "opacity": {"value": 1}}}}}}
      },
      "layer": [
        {"transform": [{"filter": "datum.s === '2 𝜎'"}], "mark": {"type": "area", "clip": true, "stroke": "rgba(128,128,128,0.25)", "strokeWidth": 1.5},
         "encoding": {"y": {"field": "lo", "type": "quantitative", "scale": {"domain": [-0.55, 1.0], "nice": false, "zero": false},
            "axis": {"title": "Correlation", "values": [-0.4, -0.2, 0, 0.2, 0.4, 0.6, 0.8, 1.0], "format": ".1f", "labelPadding": 7, "titlePadding": 17}},
            "y2": {"field": "hi"}}},
        {"transform": [{"filter": "datum.s === '1 𝜎'"}], "mark": {"type": "area", "clip": true, "stroke": "rgba(128,128,128,0.5)", "strokeWidth": 1.5},
         "encoding": {"y": {"field": "lo", "type": "quantitative"}, "y2": {"field": "hi"}}},
        {"transform": [{"filter": "datum.s === 'CCF'"}], "mark": {"type": "line", "clip": true, "strokeWidth": 2.6},
         "encoding": {"y": {"field": "v", "type": "quantitative"}}}
      ]
    },
    {
      "width": 691, "height": 742,
      "data": {"name": "p2"},
      "encoding": {
        "x": {"field": "lag", "type": "quantitative", "scale": {"domain": [-130, 130], "nice": false},
              "axis": {"title": "Lags (days)", "values": [-100, -50, 0, 50, 100], "labelPadding": 6, "titlePadding": 4}},
        "color": {"field": "s", "type": "nominal",
          "scale": {"domain": ["r ACF", "1 𝜎", "2 𝜎"], "range": ["black", "rgba(0,0,255,0.5)", "rgba(0,0,255,0.25)"]},
          "legend": {"title": null, "orient": "none", "legendX": 220, "legendY": 534,
            "encode": {"symbols": {"update": {
              "shape": {"signal": "datum.value === 'r ACF' ? 'M-2.96,0L2.96,0' : 'M-2.96,-1L2.96,-1L2.96,1L-2.96,1Z'"},
              "fill": {"signal": "datum.value === 'r ACF' ? 'transparent' : datum.value === '1 𝜎' ? 'rgba(0,0,255,0.5)' : 'rgba(0,0,255,0.25)'"},
              "stroke": {"signal": "datum.value === 'r ACF' ? 'black' : datum.value === '1 𝜎' ? 'rgba(0,0,255,0.5)' : 'rgba(0,0,255,0.25)'"},
              "strokeWidth": {"signal": "datum.value === 'r ACF' ? 3 : 1"}, "opacity": {"value": 1}}}}}}
      },
      "layer": [
        {"transform": [{"filter": "datum.s === '2 𝜎'"}], "mark": {"type": "area", "clip": true, "stroke": "rgba(0,0,255,0.25)", "strokeWidth": 1.5},
         "encoding": {"y": {"field": "lo", "type": "quantitative", "scale": {"domain": [-0.55, 1.0], "nice": false, "zero": false},
            "axis": {"title": null, "labels": false, "values": [-0.4, -0.2, 0, 0.2, 0.4, 0.6, 0.8, 1.0]}},
            "y2": {"field": "hi"}}},
        {"transform": [{"filter": "datum.s === '1 𝜎'"}], "mark": {"type": "area", "clip": true, "stroke": "rgba(0,0,255,0.5)", "strokeWidth": 1.5},
         "encoding": {"y": {"field": "lo", "type": "quantitative"}, "y2": {"field": "hi"}}},
        {"transform": [{"filter": "datum.s === 'r ACF'"}], "mark": {"type": "line", "clip": true, "strokeWidth": 2.6},
         "encoding": {"y": {"field": "v", "type": "quantitative"}}}
      ]
    },
    {
      "width": 691, "height": 742,
      "data": {"name": "p3"},
      "encoding": {
        "x": {"field": "lag", "type": "quantitative", "scale": {"domain": [-130, 130], "nice": false},
              "axis": {"title": "Lags (days)", "values": [-100, -50, 0, 50, 100], "labelPadding": 6, "titlePadding": 4}},
        "color": {"field": "s", "type": "nominal",
          "scale": {"domain": ["Ks ACF", "1 𝜎", "2 𝜎"], "range": ["black", "rgba(255,0,0,0.5)", "rgba(255,0,0,0.25)"]},
          "legend": {"title": null, "orient": "none", "legendX": 203, "legendY": 534,
            "encode": {"symbols": {"update": {
              "shape": {"signal": "datum.value === 'Ks ACF' ? 'M-2.96,0L2.96,0' : 'M-2.96,-1L2.96,-1L2.96,1L-2.96,1Z'"},
              "fill": {"signal": "datum.value === 'Ks ACF' ? 'transparent' : datum.value === '1 𝜎' ? 'rgba(255,0,0,0.5)' : 'rgba(255,0,0,0.25)'"},
              "stroke": {"signal": "datum.value === 'Ks ACF' ? 'black' : datum.value === '1 𝜎' ? 'rgba(255,0,0,0.5)' : 'rgba(255,0,0,0.25)'"},
              "strokeWidth": {"signal": "datum.value === 'Ks ACF' ? 3 : 1"}, "opacity": {"value": 1}}}}}}
      },
      "layer": [
        {"transform": [{"filter": "datum.s === '2 𝜎'"}], "mark": {"type": "area", "clip": true, "stroke": "rgba(255,0,0,0.25)", "strokeWidth": 1.5},
         "encoding": {"y": {"field": "lo", "type": "quantitative", "scale": {"domain": [-0.55, 1.0], "nice": false, "zero": false},
            "axis": {"title": null, "labels": false, "values": [-0.4, -0.2, 0, 0.2, 0.4, 0.6, 0.8, 1.0]}},
            "y2": {"field": "hi"}}},
        {"transform": [{"filter": "datum.s === '1 𝜎'"}], "mark": {"type": "area", "clip": true, "stroke": "rgba(255,0,0,0.5)", "strokeWidth": 1.5},
         "encoding": {"y": {"field": "lo", "type": "quantitative"}, "y2": {"field": "hi"}}},
        {"transform": [{"filter": "datum.s === 'Ks ACF'"}], "mark": {"type": "line", "clip": true, "strokeWidth": 2.6},
         "encoding": {"y": {"field": "v", "type": "quantitative"}}}
      ]
    }
  ]
}
